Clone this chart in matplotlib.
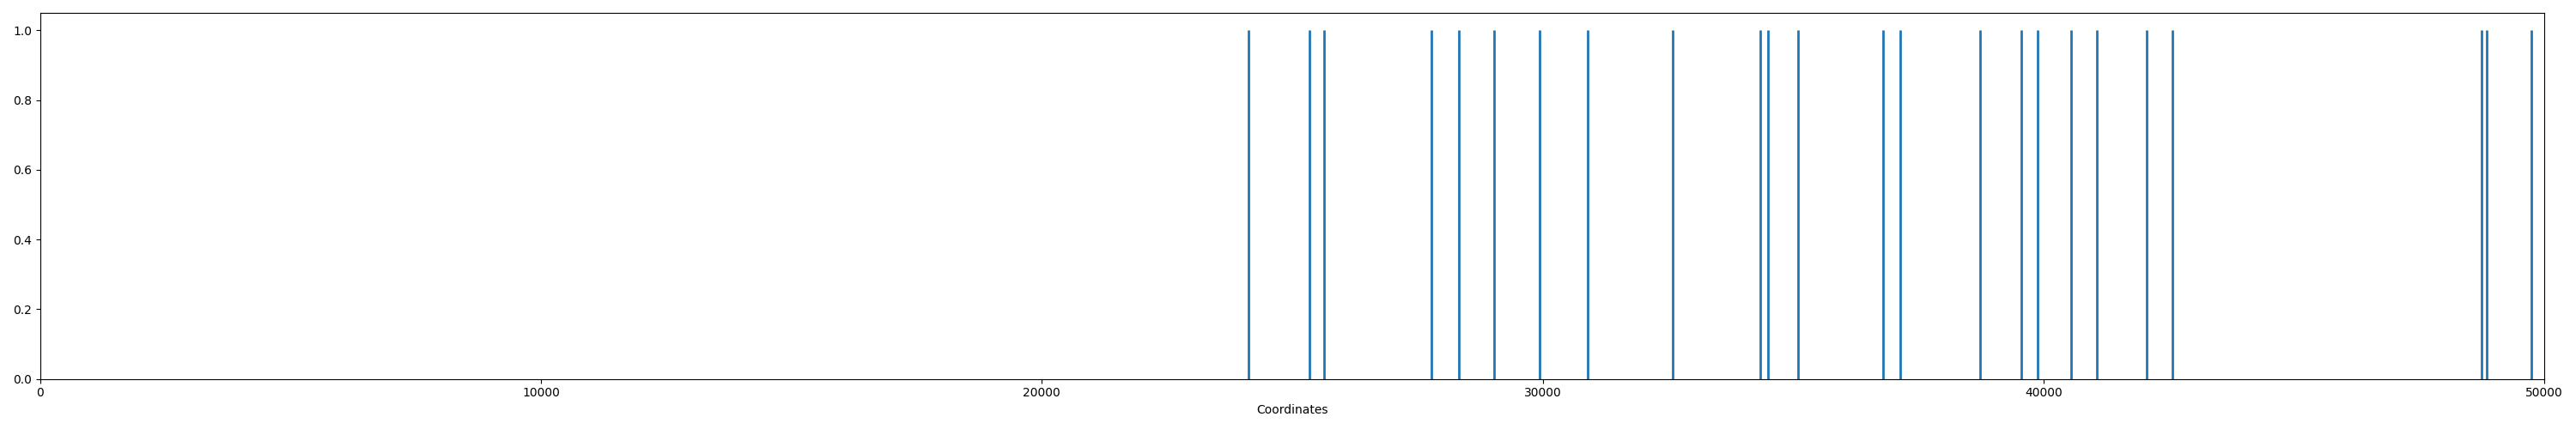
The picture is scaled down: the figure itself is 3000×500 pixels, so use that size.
import matplotlib
matplotlib.use("Agg")
import matplotlib.pyplot as plt

coords = [24130, 25345, 25640, 27774, 28332, 29022, 29940, 30893, 32600,
          34340, 34505, 35095, 36803, 37131, 38740, 39560, 39889, 40546,
          41071, 42056, 42580, 48752, 48850, 49737]
heights = [1] * len(coords)

fig, ax = plt.subplots(figsize=(30, 5), dpi=100)
ax.vlines(coords, 0, heights, color="#1f77b4", linewidth=2)
ax.set_xlim(0, 50000)
ax.set_ylim(0, 1.05)
ax.set_xlabel("Coordinates")
plt.tight_layout()
plt.savefig("out.png")
